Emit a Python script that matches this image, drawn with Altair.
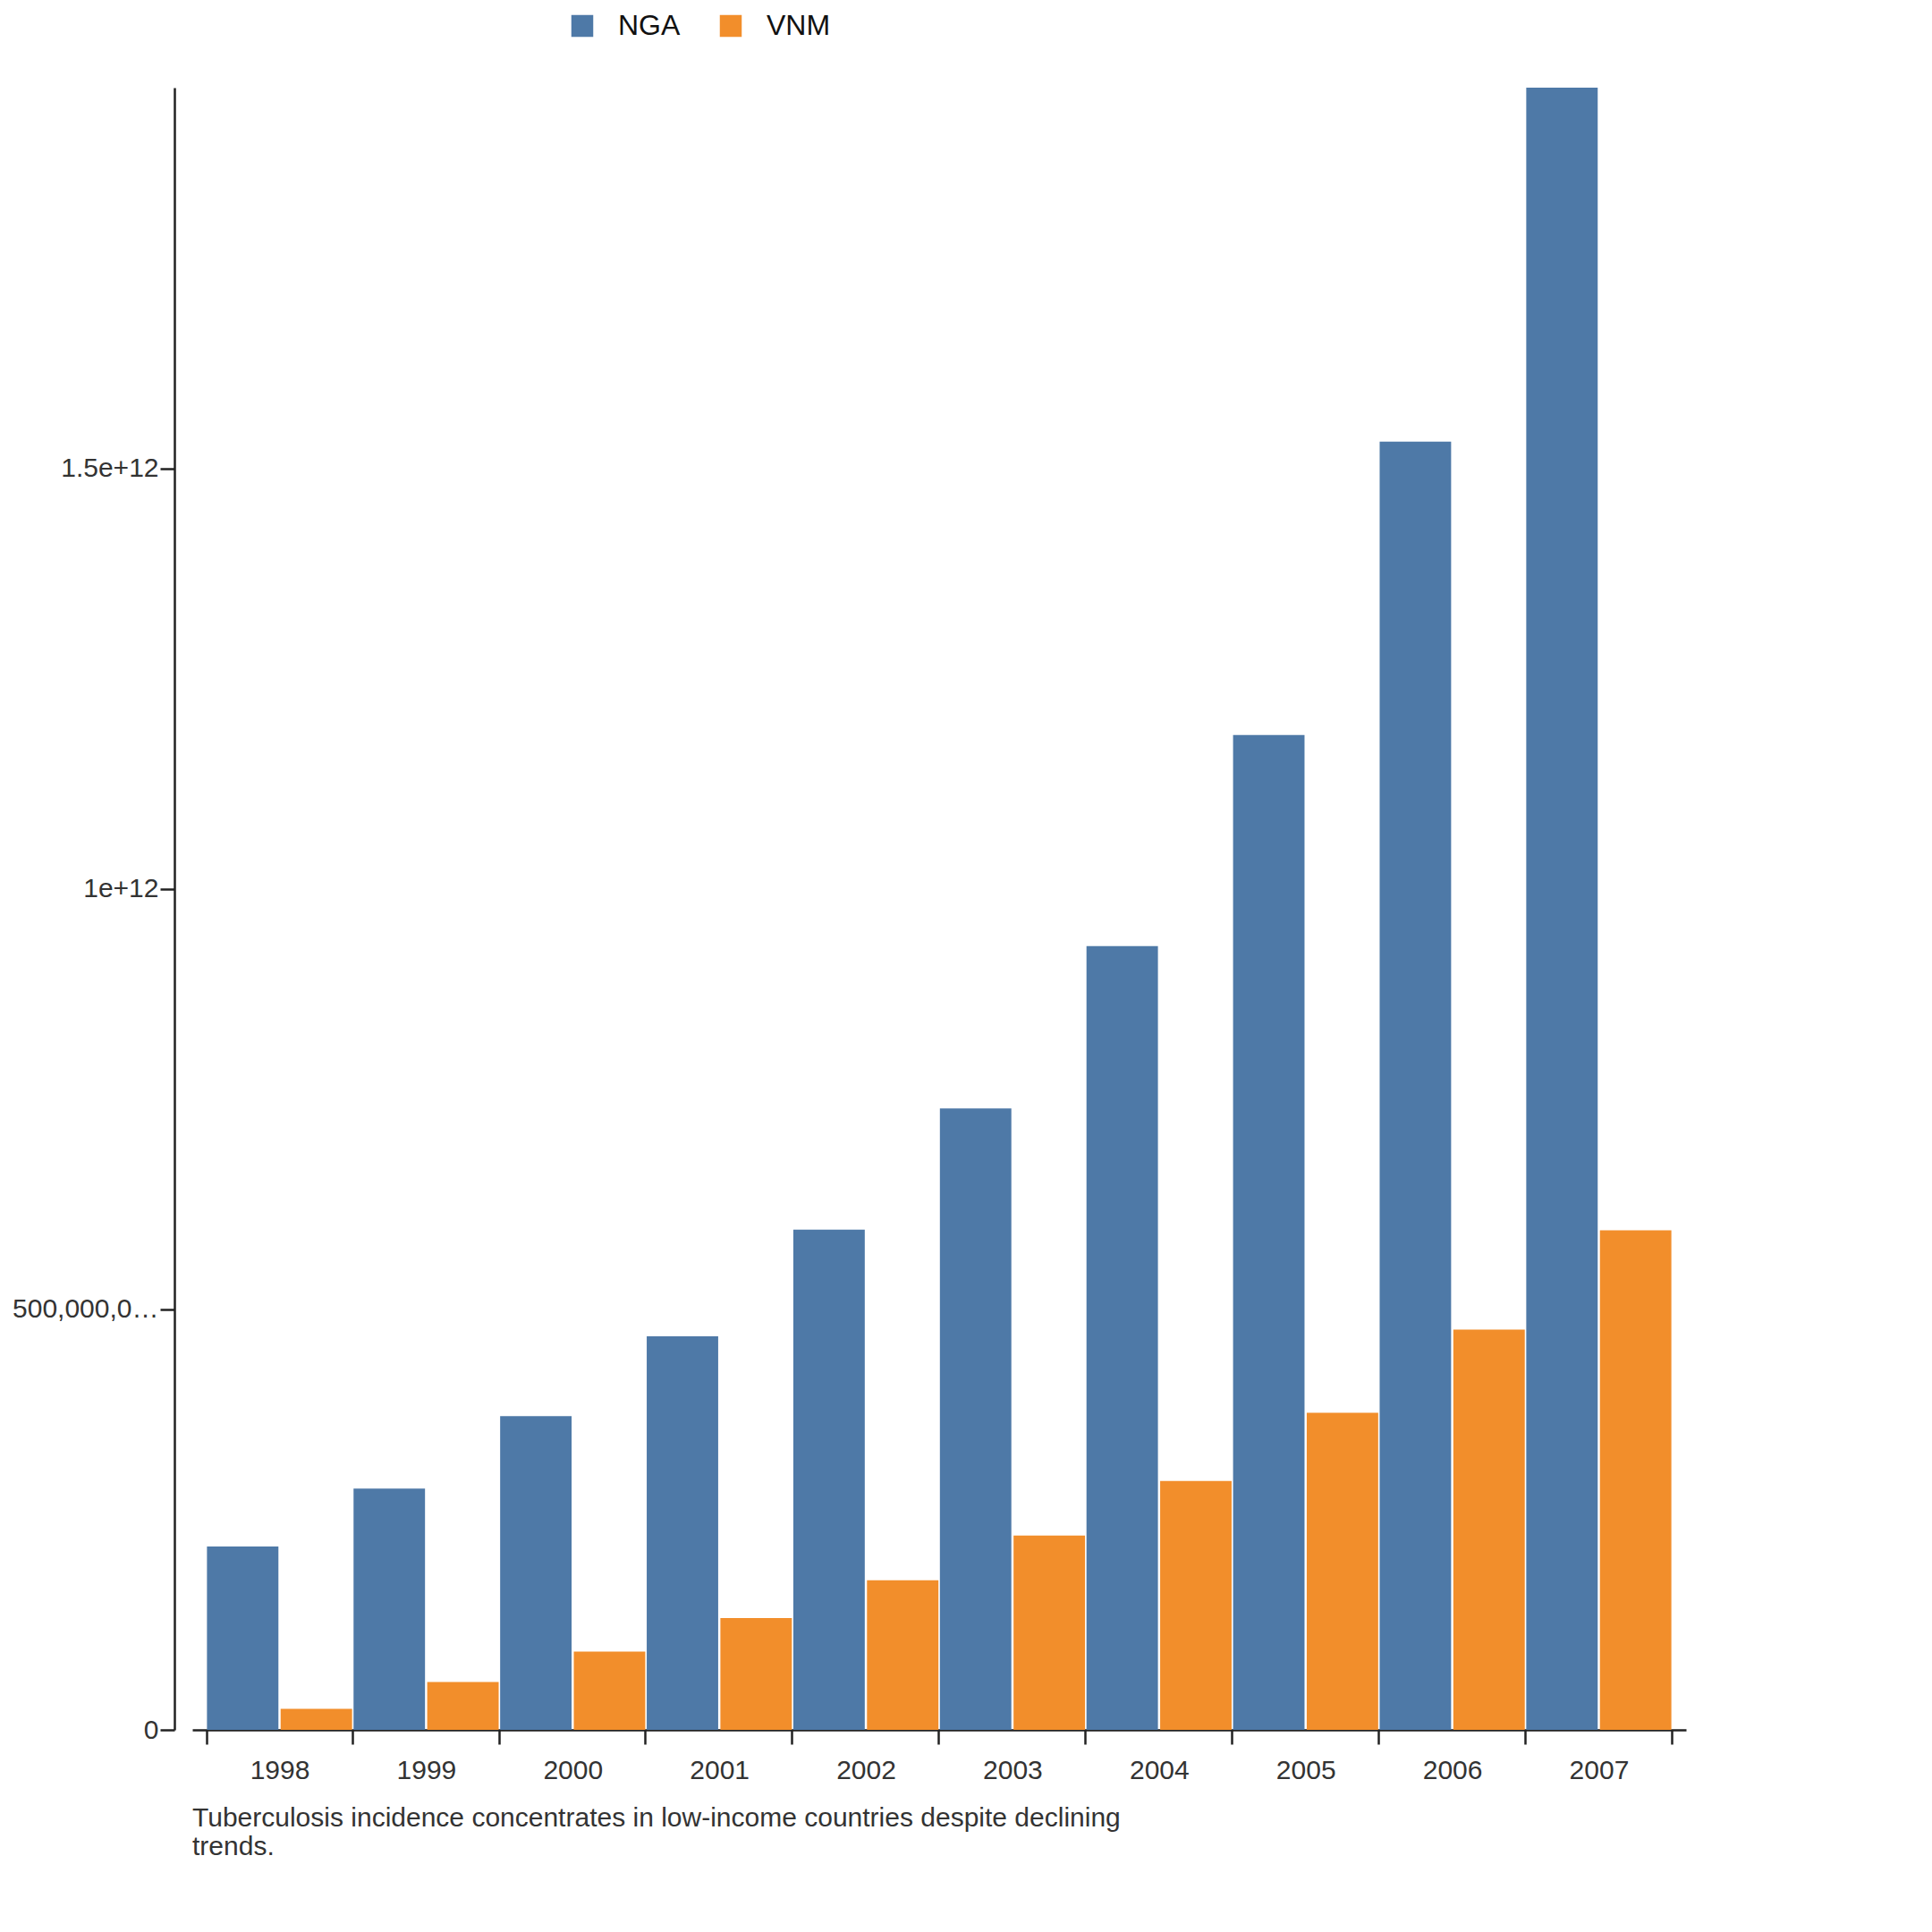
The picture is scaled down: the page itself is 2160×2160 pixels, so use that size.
import altair as alt
import pandas as pd

years = [str(y) for y in range(1998, 2008)]
nga = [218e9, 287e9, 373e9, 468e9, 595e9, 739e9, 932e9, 1183e9, 1532e9, 1953e9]
vnm = [25e9, 57e9, 93e9, 133e9, 178e9, 231e9, 296e9, 377e9, 476e9, 594e9]
yticks = [0, 500e9, 1000e9, 1500e9]

rows = []
for i, y in enumerate(years):
    rows.append({"year": y, "country": "NGA", "value": nga[i]})
    rows.append({"year": y, "country": "VNM", "value": vnm[i]})
df = pd.DataFrame(rows)

chart = alt.Chart(df).mark_bar().encode(
    x=alt.X("year:N", title=None, scale=alt.Scale(paddingInner=0.01, paddingOuter=0.1),
            axis=alt.Axis(labelAngle=0, tickBand="extent", labelPadding=14)),
    xOffset=alt.XOffset("country:N", scale=alt.Scale(paddingInner=0.03)),
    y=alt.Y("value:Q", title=None, scale=alt.Scale(domain=[0, 1953e9], nice=False),
            axis=alt.Axis(values=yticks, labelExpr="format(datum.value, ',')", grid=False, offset=20)),
    color=alt.Color("country:N", scale=alt.Scale(range=["#4e79a7", "#f28e2b"]),
                    legend=alt.Legend(orient="none", legendX=420, legendY=-85, direction="horizontal",
                                      title=None)),
).properties(
    width=1670, height=1836,
    title=alt.TitleParams(["Tuberculosis incidence concentrates in low-income countries despite declining", "trends."],
                          orient="bottom", anchor="start", frame="group", fontSize=30,
                          fontWeight="normal", color="#333", offset=24),
).configure(font="Liberation Sans").configure_view(stroke=None).configure_axis(
    labelFontSize=30, tickSize=16, domainColor="#222", tickColor="#222", labelColor="#333",
    domainWidth=2.5, tickWidth=2.5, grid=False
).configure_legend(labelFontSize=32, symbolType="square", symbolSize=600, columnPadding=40,
                   labelOffset=24, labelColor="#111")

chart.save("out.html", embed_options={"renderer": "svg", "actions": False})
